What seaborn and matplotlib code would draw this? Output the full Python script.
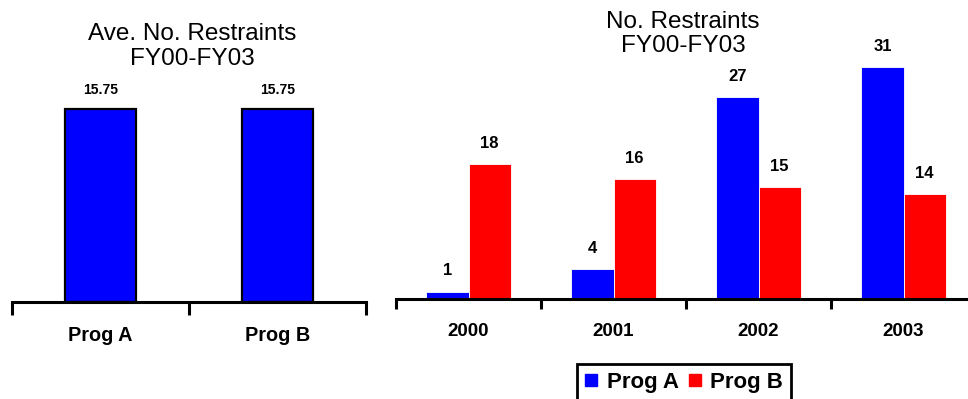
import numpy as np
import pandas as pd
import matplotlib
matplotlib.use("Agg")
import matplotlib.pyplot as plt
from matplotlib.lines import Line2D
import seaborn as sns

# Data
programs = ["Prog A", "Prog B"]
avg_restraints = [15.75, 15.75]
years = ["2000", "2001", "2002", "2003"]
prog_a_counts = [1, 4, 27, 31]
prog_b_counts = [18, 16, 15, 14]

BLUE = "#0000FF"
RED = "#FF0000"

sns.set_style("white")
plt.rcParams["font.family"] = ["Liberation Sans", "DejaVu Sans"]
plt.rcParams["text.color"] = "black"
plt.rcParams["xtick.color"] = "black"
plt.rcParams["xtick.labelcolor"] = "black"
plt.rcParams["axes.labelcolor"] = "black"

W, H = 968, 399
fig = plt.figure(figsize=(W / 100, H / 100), dpi=100)


def px_axes(x0, x1, y_base, y_top):
    return fig.add_axes([x0 / W, (H - y_base) / H, (x1 - x0) / W, (y_base - y_top) / H])


def style_axis(ax, n, tick_len, label_size, pad):
    ax.set_xlim(-0.5, n - 0.5)
    for side in ("left", "top", "right"):
        ax.spines[side].set_visible(False)
    ax.spines["bottom"].set_linewidth(2.2)
    ax.spines["bottom"].set_color("black")
    ax.set_yticks([])
    ax.set_xticks(np.arange(n))
    ax.set_xticks(np.arange(-0.5, n), minor=True)
    ax.tick_params(axis="x", which="major", length=0, pad=pad,
                   labelsize=label_size, labelcolor="black")
    ax.tick_params(axis="x", which="minor", length=tick_len, width=2.2,
                   color="black", direction="out", bottom=True)
    for lbl in ax.get_xticklabels():
        lbl.set_fontweight("bold")
    ax.set_xlabel("")
    ax.set_ylabel("")
    ax.set_facecolor("none")


# Left panel: average restraints per program
ax1 = px_axes(12, 366, 301.5, 301.5 - 20 * 12.2)
left_df = pd.DataFrame({"program": programs, "avg": avg_restraints})
sns.barplot(data=left_df, x="program", y="avg", color=BLUE, saturation=1,
            width=0.40, edgecolor="black", linewidth=1.6, ax=ax1)
ax1.set_ylim(0, 20)
style_axis(ax1, len(programs), 9, 14.3, 17.5)
for c in ax1.containers:
    ax1.bar_label(c, fmt="%.2f", padding=9, fontsize=10, fontweight="bold",
                  color="black")

# Right panel: restraints per fiscal year
ax2 = px_axes(396, 396 + 4 * 145, 299, 299 - 35 * 7.48)
right_df = pd.DataFrame({
    "year": years * 2,
    "count": prog_a_counts + prog_b_counts,
    "program": ["Prog A"] * len(years) + ["Prog B"] * len(years),
})
sns.barplot(data=right_df, x="year", y="count", hue="program",
            palette={"Prog A": BLUE, "Prog B": RED}, saturation=1,
            width=0.58, edgecolor="white", linewidth=0.6, legend=False, ax=ax2)
ax2.set_ylim(0, 35)
style_axis(ax2, len(years), 7, 13.5, 17)
for c in ax2.containers:
    ax2.bar_label(c, fmt="%d", padding=9.5, fontsize=12, fontweight="bold",
                  color="black")

# Titles
fig.text(192.5 / W, 1 - 46.5 / H, "Ave. No. Restraints\nFY00-FY03",
         ha="center", va="center", fontsize=17.5, linespacing=1.15,
         color="black")
fig.text(683 / W, 1 - 34 / H, "No. Restraints\nFY00-FY03",
         ha="center", va="center", fontsize=17.5, linespacing=1.15,
         color="black")

# Legend
handles = [Line2D([], [], marker="s", linestyle="none", markersize=8.5,
                  markerfacecolor=col, markeredgecolor=col)
           for col in (BLUE, RED)]
leg = fig.legend(handles, ["Prog A", "Prog B"], loc="upper left",
                 bbox_to_anchor=(577 / W, 1 - 364 / H), ncol=2,
                 frameon=True, fancybox=False, shadow=False, framealpha=1,
                 prop={"size": 16, "weight": "bold"},
                 handlelength=0.6, handletextpad=0.4, columnspacing=0.4,
                 borderpad=0.35, borderaxespad=0)
leg.get_frame().set_edgecolor("black")
leg.get_frame().set_linewidth(2)
for t in leg.get_texts():
    t.set_color("black")

fig.savefig("out.png", dpi=100)
